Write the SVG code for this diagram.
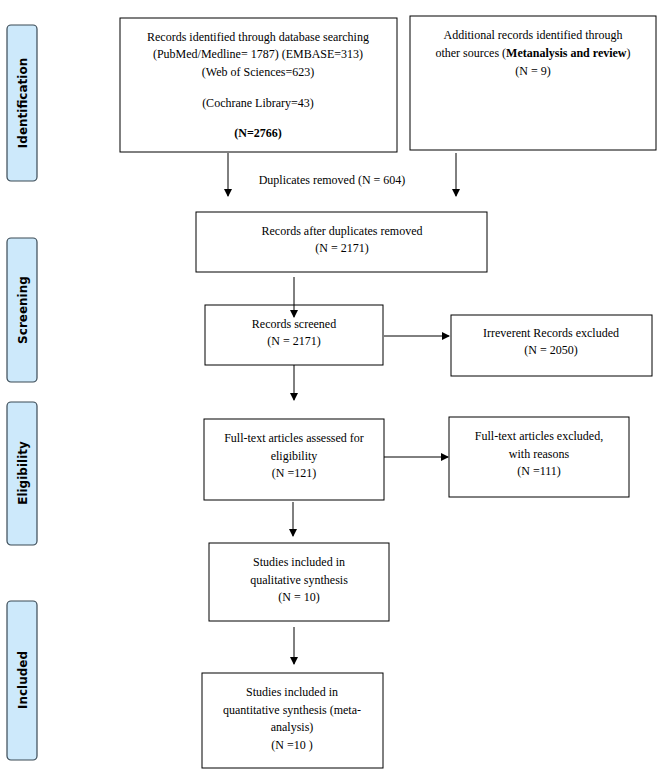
<svg xmlns="http://www.w3.org/2000/svg" width="665" height="774" viewBox="0 0 665 774">
<style>
.b{fill:#fff;stroke:#000;stroke-width:1}
.s{fill:#cde9fb;stroke:#3a4a55;stroke-width:1.2}
text{font-family:"Liberation Serif",serif;font-size:12px;text-anchor:middle;fill:#000}
.l{font-family:"DejaVu Sans",sans-serif;font-weight:bold;font-size:12px}
.c line{stroke:#000;stroke-width:1}
</style>
<defs><marker id="a" markerWidth="8" markerHeight="8" refX="7" refY="4" orient="auto" markerUnits="userSpaceOnUse"><path d="M0,0L8,4L0,8z" fill="#000"/></marker></defs>
<g id="side">
<rect class="s" x="7" y="25" width="30" height="156" rx="4"/><text class="l" transform="translate(27,103) rotate(-90)">Identification</text>
<rect class="s" x="7" y="238" width="30" height="144" rx="4"/><text class="l" transform="translate(27,310) rotate(-90)">Screening</text>
<rect class="s" x="7" y="402" width="30" height="143" rx="4"/><text class="l" transform="translate(27,473) rotate(-90)">Eligibility</text>
<rect class="s" x="7" y="601" width="30" height="159" rx="4"/><text class="l" transform="translate(27,680) rotate(-90)">Included</text>
</g>
<g id="n1"><rect class="b" x="120" y="18" width="277" height="134"/>
<text x="258" y="41">Records identified through database searching</text>
<text x="258" y="58">(PubMed/Medline= 1787) (EMBASE=313)</text>
<text x="258" y="76">(Web of Sciences=623)</text>
<text x="258" y="107">(Cochrane Library=43)</text>
<text x="258" y="137" font-weight="bold">(N=2766)</text></g>
<g id="n2"><rect class="b" x="410" y="16" width="246" height="134"/>
<text x="533" y="39">Additional records identified through</text>
<text x="533" y="57">other sources (<tspan font-weight="bold">Metanalysis and review</tspan>)</text>
<text x="533" y="75">(N = 9)</text></g>
<text x="332" y="184">Duplicates removed (N = 604)</text>
<g id="n3"><rect class="b" x="196" y="212" width="291" height="60"/>
<text x="342" y="235">Records after duplicates removed</text>
<text x="342" y="252">(N = 2171)</text></g>
<g id="n4"><rect class="b" x="205" y="305" width="178" height="60"/>
<text x="294" y="328">Records screened</text>
<text x="294" y="345">(N = 2171)</text></g>
<g id="n5"><rect class="b" x="451" y="315" width="201" height="61"/>
<text x="551" y="337">Irreverent Records excluded</text>
<text x="551" y="354">(N = 2050)</text></g>
<g id="n6"><rect class="b" x="204" y="419" width="180" height="81"/>
<text x="294" y="442">Full-text articles assessed for</text>
<text x="294" y="460">eligibility</text>
<text x="294" y="477">(N =121)</text></g>
<g id="n7"><rect class="b" x="449" y="417" width="180" height="80"/>
<text x="539" y="440">Full-text articles excluded,</text>
<text x="539" y="458">with reasons</text>
<text x="539" y="475">(N =111)</text></g>
<g id="n8"><rect class="b" x="209" y="543" width="180" height="78"/>
<text x="299" y="566">Studies included in</text>
<text x="299" y="584">qualitative synthesis</text>
<text x="299" y="601">(N = 10)</text></g>
<g id="n9"><rect class="b" x="202" y="673" width="181" height="95"/>
<text x="292" y="696">Studies included in</text>
<text x="292" y="714">quantitative synthesis (meta-</text>
<text x="292" y="731">analysis)</text>
<text x="292" y="749">(N =10 )</text></g>
<g class="c">
<line x1="228" y1="153" x2="228" y2="196" marker-end="url(#a)"/>
<line x1="456" y1="153" x2="456" y2="196" marker-end="url(#a)"/>
<line x1="294" y1="277" x2="294" y2="317" marker-end="url(#a)"/>
<line x1="294" y1="365" x2="294" y2="400" marker-end="url(#a)"/>
<line x1="384" y1="336" x2="449" y2="336" marker-end="url(#a)"/>
<line x1="384" y1="457" x2="448" y2="457" marker-end="url(#a)"/>
<line x1="293" y1="502" x2="293" y2="536" marker-end="url(#a)"/>
<line x1="294" y1="627" x2="294" y2="664" marker-end="url(#a)"/>
</g>
</svg>
